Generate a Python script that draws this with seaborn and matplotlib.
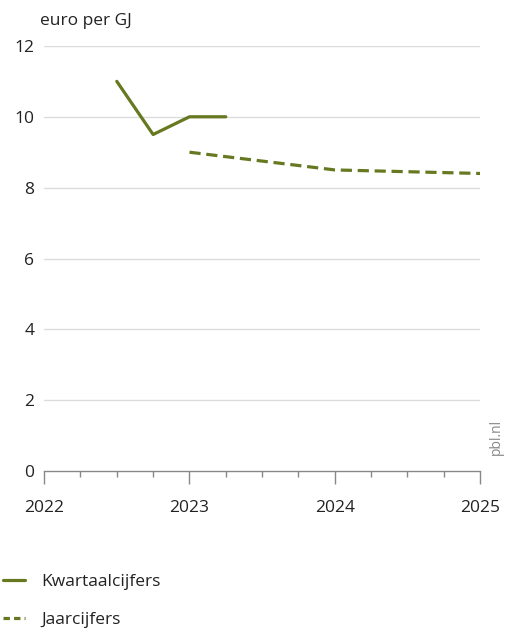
import numpy as np
import pandas as pd
import matplotlib
matplotlib.use("Agg")
import matplotlib.pyplot as plt
import seaborn as sns

# Data
kwartaal_jaar = [2022.5, 2022.75, 2023.0, 2023.25]
kwartaal_prijs = [11.0, 9.5, 10.0, 10.0]
jaar_jaar = [2023.0, 2024.0, 2025.0]
jaar_prijs = [9.0, 8.5, 8.4]
year_ticks = [2022, 2023, 2024, 2025]
y_ticks = [0, 2, 4, 6, 8, 10, 12]

sns.set_theme(style="white")
plt.rcParams['font.family'] = ['Open Sans', 'DejaVu Sans']

groen = "#667820"
tekst = "#222222"

fig = plt.figure(figsize=(5.13, 6.29), dpi=100)
ax = fig.add_axes([0.086, 0.251, 0.85, 0.676])

df_k = pd.DataFrame({"jaar": kwartaal_jaar, "prijs": kwartaal_prijs})
df_j = pd.DataFrame({"jaar": jaar_jaar, "prijs": jaar_prijs})

sns.lineplot(data=df_k, x="jaar", y="prijs", color=groen, linewidth=2.3, ax=ax,
             label="Kwartaalcijfers")
sns.lineplot(data=df_j, x="jaar", y="prijs", color=groen, linewidth=2.3, ax=ax,
             linestyle=(0, (3.5, 1.8)), label="Jaarcijfers")

ax.set_xlim(2022, 2025)
ax.set_ylim(0, 12)
ax.set_yticks(y_ticks)
ax.set_xticks(year_ticks)
ax.set_xticks(np.arange(2022, 2025.01, 0.25), minor=True)
ax.set_xlabel("")
ax.set_ylabel("")

# horizontale rasterlijnen
for v in y_ticks[1:]:
    ax.axhline(v, color="#dcdcdc", linewidth=1.0, zorder=0)

for s in ["top", "right", "left"]:
    ax.spines[s].set_visible(False)
ax.spines["bottom"].set_color("#888888")
ax.spines["bottom"].set_linewidth(1.0)

ax.tick_params(axis="x", which="major", direction="out", length=9, width=1,
               color="#888888", labelsize=12.5, labelcolor=tekst, pad=12, bottom=True)
ax.tick_params(axis="x", which="minor", direction="out", length=4, width=1,
               color="#888888", bottom=True)
ax.tick_params(axis="y", length=0, labelsize=12.5, labelcolor=tekst, pad=7)

fig.text(0.078, 0.967, "euro per GJ", fontsize=12.5, color=tekst, ha="left", va="center")
fig.text(0.968, 0.305, "pbl.nl", fontsize=10, color="#888888", rotation=90,
         ha="center", va="center")

handles, labels = ax.get_legend_handles_labels()
ax.get_legend().remove()
leg = fig.legend(handles, labels, loc="upper left", bbox_to_anchor=(-0.025, 0.113),
                 frameon=False, fontsize=12.5, handlelength=1.3, handletextpad=0.9,
                 labelspacing=1.3, labelcolor=tekst)
leg.get_lines()[1].set_linestyle((0, (2.0, 1.3)))

fig.savefig("out.png", dpi=100)
